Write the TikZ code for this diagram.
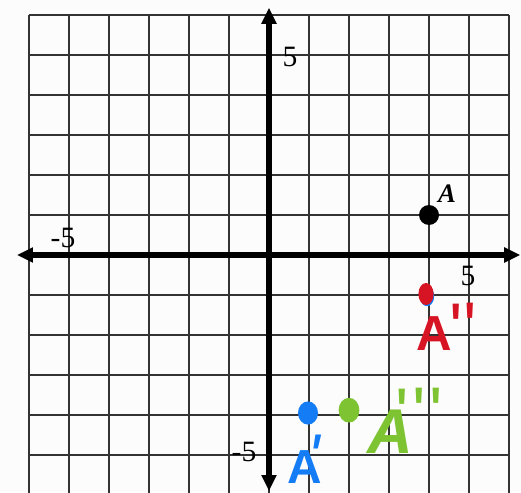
\documentclass[tikz,border=0pt]{standalone}
\usepackage{fontspec}
\setmainfont{Liberation Serif}
\newfontfamily\handfont{Liberation Sans}
\usetikzlibrary{arrows.meta,shapes.geometric}
\definecolor{hred}{RGB}{215,20,35}
\definecolor{hblue}{RGB}{20,125,245}
\definecolor{hgreen}{RGB}{125,195,50}
\definecolor{bg}{RGB}{252,252,252}
\newcommand{\hprime}[1]{\raisebox{#1}{\mdseries\upshape\textquotesingle}}
\begin{document}
\begin{tikzpicture}[x=1cm,y=1cm,
  gridline/.style={draw=black!80, line width=0.8pt},
  axisline/.style={line width=3.6pt, {Triangle[length=0.4cm,width=0.36cm]}-{Triangle[length=0.4cm,width=0.36cm]}},
  numlabel/.style={font=\fontsize{21}{21}\selectfont, inner sep=0pt},
  dotnode/.style={ellipse, inner sep=0pt},
  handlabel/.style={inner sep=0pt, anchor=base west}]
\useasboundingbox[fill=bg] (-6.725,-5.925) rectangle (6.3,6.375);
\clip (-6.725,-5.925) rectangle (6.3,6.375);
\draw[gridline] (-6,-6) grid (6,6);
\coordinate (xl) at (-6.3,0);
\coordinate (xr) at (6.28,0);
\coordinate (yt) at (0,6.18);
\coordinate (yb) at (0,-5.9);
\draw[axisline] (xl) -- (xr);
\draw[axisline] (yb) -- (yt);
\node[numlabel] (ytick) at (0.525,4.95) {5};
\node[numlabel] (xtickl) at (-5.15,0.425) {-5};
\node[numlabel] (xtickr) at (4.975,-0.525) {5};
\node[numlabel] (ytickb) at (-0.625,-4.925) {-5};
% point A
\node[circle, fill=black, minimum size=0.5cm, inner sep=0pt] (ptA) at (4,1) {};
\node[font=\fontsize{19}{19}\selectfont\bfseries\itshape, inner sep=0pt] (labA) at (4.45,1.53) {A};
% A''
\node[dotnode, fill=hblue, minimum width=0.36cm, minimum height=0.5cm] (ptAbshadow) at (3.95,-1.03) {};
\node[dotnode, fill=hred, minimum width=0.38cm, minimum height=0.55cm] (ptAb) at (3.925,-0.975) {};
\node[handlabel, text=hred, font=\handfont\bfseries\fontsize{35}{35}\selectfont] (labAb) at (3.68,-2.375) {A\kern-0.06em{\fontsize{50}{50}\selectfont\hprime{-0.04em}\kern0.02em\hprime{-0.02em}}};
% A'
\node[dotnode, fill=hblue, minimum width=0.5cm, minimum height=0.58cm] (ptAp) at (0.975,-3.95) {};
\node[handlabel, text=hblue, font=\handfont\bfseries\fontsize{34}{34}\selectfont] (labAp) at (0.45,-5.7) {A\kern-0.3em{\fontsize{46}{46}\selectfont\raisebox{0.06em}{\mdseries\itshape\textquotesingle}}};
% A'''
\node[dotnode, fill=hgreen, minimum width=0.52cm, minimum height=0.62cm] (ptAc) at (2.0,-3.88) {};
\node[handlabel, text=hgreen, font=\handfont\bfseries\itshape\fontsize{45}{45}\selectfont] (labAc) at (2.45,-4.95) {A\kern-0.28em{\fontsize{50}{50}\selectfont\hprime{0.22em}\kern0.05em\hprime{0.23em}\kern0.05em\hprime{0.24em}}};
\end{tikzpicture}
\end{document}
